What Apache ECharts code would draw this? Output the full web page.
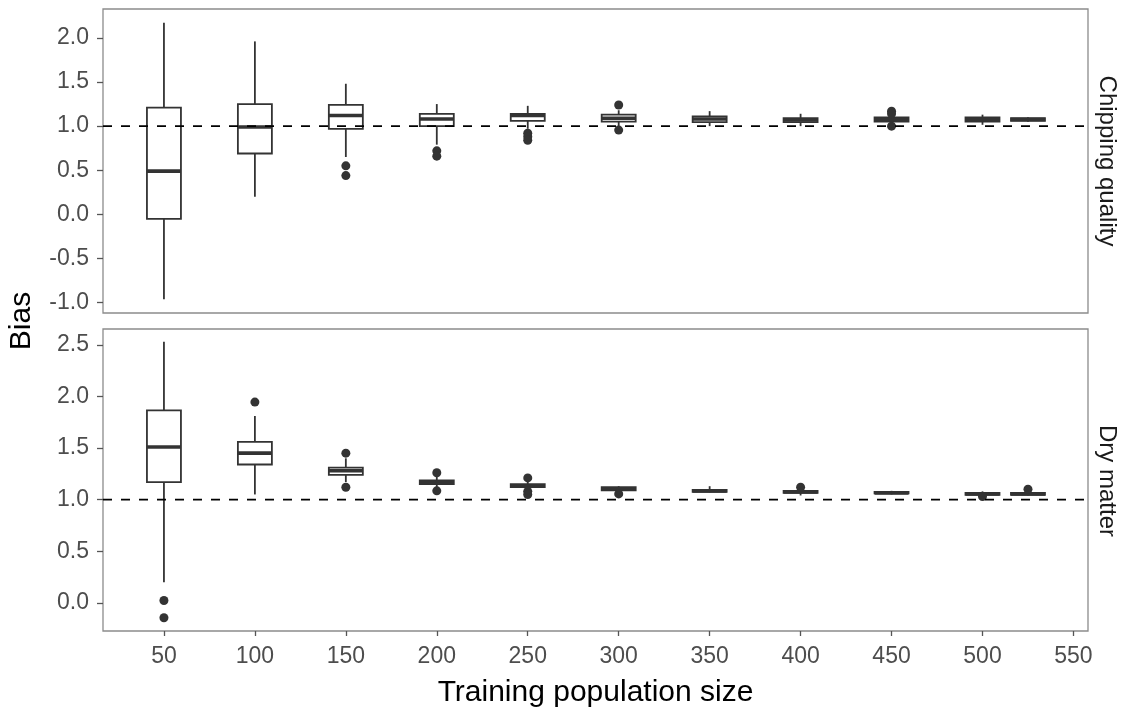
<!DOCTYPE html>
<html>
<head>
<meta charset="utf-8">
<script src="https://cdn.jsdelivr.net/npm/echarts@6/dist/echarts.min.js"></script>
<style>
html,body{margin:0;padding:0;background:#fff;}
#chart{width:1125px;height:709px;}
</style>
</head>
<body>
<div id="chart"></div>
<script>
// ---- data ----
const positions = [50, 100, 150, 200, 250, 300, 350, 400, 450, 500, 525];
const xTicks = [50, 100, 150, 200, 250, 300, 350, 400, 450, 500, 550];

// Chipping quality
const cqMin = [-0.96, 0.20, 0.65, 0.79, 0.97, 1.00, 1.00, 1.00, 1.02, 1.015, 1.05];
const cqQ1  = [-0.05, 0.69, 0.97, 1.00, 1.06, 1.05, 1.045, 1.045, 1.05, 1.05, 1.06];
const cqMed = [0.49, 0.99, 1.12, 1.08, 1.12, 1.09, 1.08, 1.07, 1.075, 1.075, 1.075];
const cqQ3  = [1.21, 1.25, 1.24, 1.14, 1.14, 1.13, 1.11, 1.09, 1.10, 1.10, 1.09];
const cqMax = [2.17, 1.96, 1.48, 1.25, 1.23, 1.18, 1.17, 1.14, 1.12, 1.13, 1.10];
const cqOutX = [150, 150, 200, 200, 250, 250, 250, 300, 300, 450, 450, 450];
const cqOutY = [0.55, 0.44, 0.72, 0.66, 0.92, 0.88, 0.84, 1.24, 0.955, 1.17, 1.14, 1.00];
const cqTicks = [-1.0, -0.5, 0.0, 0.5, 1.0, 1.5, 2.0];

// Dry matter
const dmMin = [0.20, 1.05, 1.17, 1.12, 1.09, 1.07, 1.07, 1.04, 1.05, 1.035, 1.04];
const dmQ1  = [1.17, 1.34, 1.24, 1.15, 1.12, 1.09, 1.075, 1.065, 1.06, 1.045, 1.045];
const dmMed = [1.51, 1.45, 1.28, 1.165, 1.135, 1.105, 1.085, 1.075, 1.065, 1.055, 1.055];
const dmQ3  = [1.865, 1.56, 1.31, 1.185, 1.15, 1.12, 1.095, 1.085, 1.075, 1.065, 1.065];
const dmMax = [2.53, 1.81, 1.40, 1.22, 1.18, 1.13, 1.13, 1.10, 1.085, 1.08, 1.08];
const dmOutX = [50, 50, 100, 150, 150, 200, 200, 250, 250, 250, 300, 400, 500, 525];
const dmOutY = [0.022, -0.145, 1.945, 1.45, 1.12, 1.26, 1.085, 1.21, 1.08, 1.05, 1.055, 1.12, 1.03, 1.10];
const dmTicks = [0.0, 0.5, 1.0, 1.5, 2.0, 2.5];

const refLine = 1.0;
const panelNames = ['Chipping quality', 'Dry matter'];

// ---- build ----
const DARK = '#333333';
const FONT = '"Liberation Sans", Arial, sans-serif';
const HALF_W = 17;

function boxData(mn, q1, md, q3, mx) {
  return positions.map((p, i) => [p, mn[i], q1[i], md[i], q3[i], mx[i]]);
}
function renderBox(params, api) {
  const x = api.value(0);
  const pMin = api.coord([x, api.value(1)]);
  const pQ1 = api.coord([x, api.value(2)]);
  const pMed = api.coord([x, api.value(3)]);
  const pQ3 = api.coord([x, api.value(4)]);
  const pMax = api.coord([x, api.value(5)]);
  const cx = pQ1[0];
  const st = { stroke: DARK, lineWidth: 1.8, fill: null };
  return {
    type: 'group',
    children: [
      { type: 'line', shape: { x1: cx, y1: pQ3[1], x2: cx, y2: pMax[1] }, style: st },
      { type: 'line', shape: { x1: cx, y1: pQ1[1], x2: cx, y2: pMin[1] }, style: st },
      { type: 'rect', shape: { x: cx - HALF_W, y: pQ3[1], width: 2 * HALF_W, height: pQ1[1] - pQ3[1] },
        style: { stroke: DARK, lineWidth: 1.8, fill: '#ffffff' } },
      { type: 'line', shape: { x1: cx - HALF_W, y1: pMed[1], x2: cx + HALF_W, y2: pMed[1] },
        style: { stroke: DARK, lineWidth: 3.6 } }
    ]
  };
}
function outData(xs, ys) { return xs.map((x, i) => [x, ys[i]]); }

const XMIN = 16.5, XMAX = 558;
const grids = [
  { left: 103, width: 985, top: 9, height: 304 },
  { left: 103, width: 985, top: 329, height: 304 }
];
grids.forEach(g => { g.show = true; g.borderColor = '#8c8c8c'; g.borderWidth = 1.3; g.backgroundColor = '#fff'; });

const axisLabelStyle = { color: '#4d4d4d', fontSize: 23, fontFamily: FONT };
const xAxes = [0, 1].map(i => ({
  type: 'value', gridIndex: i, min: XMIN, max: XMAX,
  axisLine: { show: false, onZero: false }, splitLine: { show: false },
  axisTick: i === 1 ? { show: true, length: 5, lineStyle: { color: '#555', width: 1.3 }, customValues: xTicks } : { show: false },
  axisLabel: i === 1 ? Object.assign({ show: true, margin: 14, customValues: xTicks, formatter: v => String(v) }, axisLabelStyle) : { show: false },
  name: i === 1 ? 'Training population size' : '',
  nameLocation: 'middle', nameGap: 47,
  nameTextStyle: { fontSize: 30, color: '#000', fontFamily: FONT }
}));
const yAxes = [
  { min: -1.117, max: 2.327, ticks: cqTicks },
  { min: -0.273, max: 2.653, ticks: dmTicks }
].map((a, i) => ({
  type: 'value', gridIndex: i, min: a.min, max: a.max,
  axisLine: { show: false, onZero: false }, splitLine: { show: false },
  axisTick: { show: true, length: 6, lineStyle: { color: '#555', width: 1.3 }, customValues: a.ticks },
  axisLabel: Object.assign({ show: true, margin: 14, customValues: a.ticks, formatter: v => v.toFixed(1) }, axisLabelStyle)
}));

const series = [];
[[cqMin, cqQ1, cqMed, cqQ3, cqMax, cqOutX, cqOutY], [dmMin, dmQ1, dmMed, dmQ3, dmMax, dmOutX, dmOutY]].forEach((d, i) => {
  series.push({
    type: 'custom', xAxisIndex: i, yAxisIndex: i, renderItem: renderBox,
    data: boxData(d[0], d[1], d[2], d[3], d[4]), z: 2, silent: true, clip: true
  });
  series.push({
    type: 'scatter', xAxisIndex: i, yAxisIndex: i, data: outData(d[5], d[6]),
    symbol: 'circle', symbolSize: 9, itemStyle: { color: DARK, opacity: 1 }, z: 3, silent: true
  });
  series.push({
    type: 'line', xAxisIndex: i, yAxisIndex: i, data: [[XMIN, refLine], [XMAX, refLine]],
    symbol: 'none', lineStyle: { color: '#000', width: 1.8, type: [9, 9] }, z: 4, silent: true
  });
});

const graphics = [
  { type: 'text', x: 22, y: 321, rotation: Math.PI / 2,
    style: { text: 'Bias', fontSize: 30, fontFamily: FONT, fill: '#000', align: 'center', verticalAlign: 'middle' } },
  { type: 'text', x: 1107, y: 161, rotation: -Math.PI / 2,
    style: { text: panelNames[0], fontSize: 24, fontFamily: FONT, fill: '#1a1a1a', align: 'center', verticalAlign: 'middle' } },
  { type: 'text', x: 1107, y: 481, rotation: -Math.PI / 2,
    style: { text: panelNames[1], fontSize: 24, fontFamily: FONT, fill: '#1a1a1a', align: 'center', verticalAlign: 'middle' } }
];

const chart = echarts.init(document.getElementById('chart'), null, { renderer: 'canvas' });
chart.setOption({
  animation: false,
  backgroundColor: '#ffffff',
  grid: grids,
  xAxis: xAxes,
  yAxis: yAxes,
  series: series,
  graphic: graphics
});
</script>
</body>
</html>
